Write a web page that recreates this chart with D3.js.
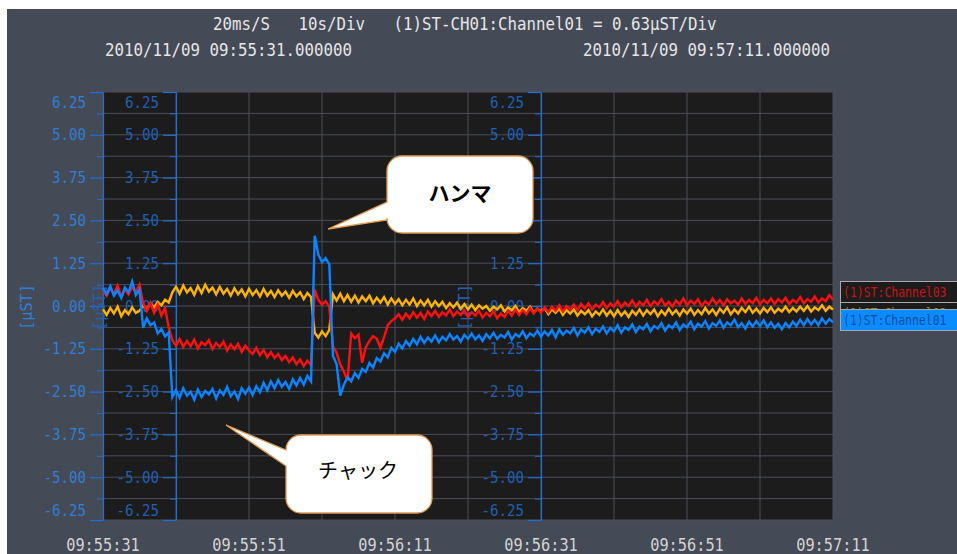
<!DOCTYPE html>
<html>
<head>
<meta charset="utf-8">
<script src="https://cdn.jsdelivr.net/npm/d3@7"></script>
<style>
  html, body { margin: 0; padding: 0; background: #ffffff; }
  svg { display: block; }
</style>
</head>
<body>
<svg id="chart" width="957" height="554"></svg>
<script>
// ---- data -----------------------------------------------------------
const sampleStep = 0.5;              // seconds between stored samples
const spanSeconds = 100;             // 10 s/Div x 10 Div
const timeLabels = ["09:55:31", "09:55:51", "09:56:11", "09:56:31", "09:56:51", "09:57:11"];
const yTicks = [6.25, 5.00, 3.75, 2.50, 1.25, 0.00, -1.25, -2.50, -3.75, -5.00, -6.25];
const headerFields = ["20ms/S", "10s/Div", "(1)ST-CH01:Channel01 = 0.63\u00b5ST/Div"];
const startStamp = "2010/11/09 09:55:31.000000";
const endStamp = "2010/11/09 09:57:11.000000";
const unitLabel = "[\u00b5ST]";
const seriesNames = ["(1)ST:Channel03", "(1)ST:Channel02", "(1)ST:Channel01"];

// µST, one value every sampleStep seconds
const channel01 = [
  0.52,0.34,0.58,0.30,0.46,0.24,0.54,0.40,0.72,0.32,0.48,
  -0.64,-0.36,-0.56,-0.48,-0.80,-0.67,-0.89,-0.77,-2.66,
  -2.45,-2.68,-2.40,-2.62,-2.50,-2.74,-2.44,-2.66,-2.48,-2.58,-2.42,-2.70,-2.46,-2.60,-2.36,-2.64,-2.50,-2.72,-2.40,-2.56,-2.38,
  -2.60,-2.34,-2.52,-2.24,-2.46,-2.20,-2.40,-2.16,-2.36,-2.22,-2.42,-2.14,-2.32,-2.10,-2.30,-2.04,-2.20,
  2.05,1.50,1.28,1.40,1.22,
  -1.45,-1.70,-2.62,-2.30,-2.08,-2.20,-1.96,-2.10,-1.84,-1.92,-1.66,-1.80,-1.52,-1.62,-1.38,-1.50,-1.22,-1.34,
  -1.10,-1.24,-1.02,-1.16,-0.96,-1.12,-0.90,-1.08,-0.92,-1.04,-0.86,-1.06,-0.90,-1.00,-0.82,-0.98,-0.88,-1.04,-0.84,-0.96,
  -0.80,-0.98,-0.86,-1.02,-0.82,-0.94,-0.78,-0.96,-0.84,-0.92,-0.76,-0.98,-0.82,-0.90,-0.74,-0.94,-0.80,-0.88,-0.72,-0.90,
  -0.74,-0.86,-0.70,-0.92,-0.68,-0.84,-0.72,-0.80,-0.64,-0.86,-0.68,-0.78,-0.62,-0.82,-0.66,-0.76,-0.60,-0.80,-0.64,-0.74,
  -0.56,-0.78,-0.62,-0.70,-0.54,-0.76,-0.60,-0.68,-0.52,-0.74,-0.58,-0.66,-0.50,-0.72,-0.56,-0.64,-0.48,-0.70,-0.54,-0.62,
  -0.46,-0.68,-0.52,-0.60,-0.44,-0.66,-0.50,-0.58,-0.42,-0.64,-0.48,-0.56,-0.40,-0.62,-0.50,-0.66,-0.46,-0.60,-0.44,-0.58,
  -0.42,-0.62,-0.48,-0.64,-0.52,-0.68,-0.50,-0.62,-0.46,-0.58,-0.40,-0.56,-0.38,-0.54,-0.40,-0.56,-0.36,-0.52,-0.38,-0.48
];
const channel02 = [
  -0.10,-0.26,-0.06,-0.22,-0.02,-0.30,-0.12,-0.24,-0.04,-0.20,-0.14,
  0.02,-0.10,0.08,-0.04,0.12,0.02,0.18,0.10,0.40,
  0.56,0.36,0.60,0.40,0.52,0.32,0.58,0.38,0.62,0.42,0.54,0.34,0.56,0.36,0.50,0.30,0.52,0.34,0.48,0.28,0.50,
  0.32,0.46,0.28,0.50,0.30,0.44,0.26,0.46,0.30,0.42,0.24,0.44,0.28,0.40,0.20,0.38,0.26,
  -0.78,-0.92,-0.74,-0.88,-0.70,
  0.34,0.16,0.36,0.14,0.32,0.12,0.30,0.10,0.28,0.14,0.30,0.08,0.24,0.10,0.26,0.04,0.22,0.06,
  0.20,0.02,0.18,0.04,0.22,0.00,0.16,0.02,0.18,-0.02,0.14,0.00,0.12,-0.06,0.08,-0.04,0.10,-0.08,0.06,-0.10,
  0.04,-0.12,0.02,-0.08,0.00,-0.14,-0.02,-0.10,0.02,-0.16,-0.04,-0.12,0.00,-0.18,-0.06,-0.14,-0.02,-0.20,-0.08,-0.16,
  -0.06,-0.24,-0.10,-0.20,-0.08,-0.26,-0.12,-0.22,-0.10,-0.28,-0.14,-0.24,-0.12,-0.30,-0.16,-0.26,-0.10,-0.28,-0.14,-0.30,
  -0.12,-0.28,-0.16,-0.32,-0.14,-0.26,-0.10,-0.28,-0.12,-0.24,-0.10,-0.30,-0.14,-0.26,-0.08,-0.24,-0.12,-0.28,-0.10,-0.22,
  -0.08,-0.26,-0.12,-0.24,-0.06,-0.22,-0.10,-0.26,-0.08,-0.20,-0.04,-0.24,-0.10,-0.22,-0.06,-0.18,-0.02,-0.20,-0.08,-0.22,
  -0.06,-0.18,-0.04,-0.20,-0.08,-0.16,-0.02,-0.18,-0.06,-0.16,-0.02,-0.14,0.00,-0.16,-0.04,-0.12,0.02,-0.14,-0.02,-0.10
];
const channel03 = [
  0.44,0.30,0.52,0.36,0.60,0.28,0.48,0.34,0.56,0.40,0.62,
  0.08,-0.14,0.10,-0.20,0.04,-0.28,-0.06,-0.62,-1.00,
  -1.16,-0.96,-1.20,-1.02,-1.18,-0.98,-1.24,-1.06,-1.14,-1.00,-1.26,-1.08,-1.20,-1.04,-1.30,-1.12,-1.26,-1.10,-1.34,-1.16,-1.30,
  -1.40,-1.22,-1.44,-1.28,-1.50,-1.34,-1.52,-1.40,-1.58,-1.46,-1.64,-1.50,-1.70,-1.56,-1.76,-1.60,-1.72,
  0.48,0.18,0.04,0.14,-0.02,
  -1.18,-1.36,-1.70,-1.92,-2.18,-0.80,-0.94,-0.84,-1.66,-1.20,-1.02,-0.88,-0.96,-1.22,-0.92,-0.56,-0.44,-0.36,
  -0.24,-0.40,-0.22,-0.36,-0.18,-0.34,-0.20,-0.38,-0.16,-0.30,-0.14,-0.32,-0.18,-0.28,-0.10,-0.30,-0.16,-0.26,-0.12,-0.32,
  -0.18,-0.28,-0.14,-0.34,-0.20,-0.30,-0.16,-0.36,-0.22,-0.32,-0.14,-0.28,-0.10,-0.26,-0.12,-0.24,-0.06,-0.22,-0.08,-0.20,
  -0.04,-0.18,-0.02,-0.14,0.02,-0.16,0.00,-0.10,0.04,-0.12,0.06,-0.08,0.08,-0.10,0.04,-0.04,0.12,-0.06,0.08,-0.02,
  0.14,-0.04,0.10,0.00,0.16,-0.02,0.12,0.02,0.18,0.00,0.14,0.04,0.20,0.02,0.12,-0.02,0.16,0.04,0.22,0.02,
  0.16,0.06,0.20,0.00,0.14,0.04,0.22,0.06,0.18,0.02,0.20,0.08,0.16,0.04,0.22,0.06,0.18,0.08,0.24,0.04,
  0.18,0.08,0.22,0.06,0.20,0.10,0.24,0.06,0.18,0.10,0.26,0.08,0.20,0.12,0.28,0.10,0.22,0.14,0.32,0.18
];

// ---- layout ---------------------------------------------------------
const W = 957, H = 554;
const plot = { left: 103, right: 833, top: 92, bottom: 520 };
const monoFont = "'DejaVu Sans Mono', 'Liberation Mono', monospace";
const cjkFont = "'Noto Sans CJK JP', 'Noto Sans', sans-serif";
const cell = 9.5;                    // character cell width of header text

const svg = d3.select("#chart");

const x = d3.scaleLinear().domain([0, spanSeconds]).range([plot.left, plot.right]);
const y = d3.scaleLinear().domain([-6.25, 6.25]).range([plot.bottom, plot.top]);

// squeeze monospaced text into the narrow cell width of the recorder font
function fitText(sel, cellWidth) {
  sel.attr("textLength", function () { return this.textContent.length * cellWidth; })
     .attr("lengthAdjust", "spacingAndGlyphs");
}

// page background: white margin and slate panel
svg.append("rect").attr("width", W).attr("height", H).attr("fill", "#ffffff");
svg.append("rect").attr("x", 7).attr("y", 9).attr("width", W - 7).attr("height", H - 9).attr("fill", "#454a57");

// header text: fields separated by three character cells
const header = svg.append("g").attr("font-family", monoFont).attr("font-size", 17).attr("fill", "#e6e6e6");
let hx = 213;
headerFields.forEach(f => {
  header.append("text").attr("x", hx).attr("y", 30).text(f).call(fitText, cell);
  hx += (f.length + 3) * cell;
});
header.append("text").attr("x", 105).attr("y", 56).text(startStamp).call(fitText, cell);
header.append("text").attr("x", 583).attr("y", 56).text(endStamp).call(fitText, cell);

// plot area
svg.append("rect")
  .attr("x", plot.left).attr("y", plot.top)
  .attr("width", plot.right - plot.left).attr("height", plot.bottom - plot.top)
  .attr("fill", "#1c1c1c");

// grid: one line per 0.625 µST division and per 10 s division
const grid = svg.append("g").attr("stroke", "#4a4e5a").attr("stroke-width", 1);
const hLevels = d3.range(0, 21).map(k => -6.25 + k * 0.625);
grid.selectAll("line.h").data(hLevels).join("line")
  .attr("x1", plot.left).attr("x2", plot.right)
  .attr("y1", d => y(d)).attr("y2", d => y(d));
const vTimes = d3.range(0, 11).map(k => k * 10);
grid.selectAll("line.v").data(vTimes).join("line")
  .attr("x1", d => x(d)).attr("x2", d => x(d))
  .attr("y1", plot.top).attr("y2", plot.bottom);

// µST scales repeated at 0 s, 10 s and 60 s
const axisBlue = "#1e6fd9";
const minorLevels = d3.range(0, 10).map(k => -5.625 + k * 1.25);
function drawScale(t, labelColor) {
  const x0 = x(t);
  const g = svg.append("g").attr("transform", `translate(${x0},0)`);
  const minor = g.append("g")
    .call(d3.axisLeft(y).tickValues(minorLevels).tickSize(6).tickSizeOuter(0).tickFormat(() => ""));
  minor.select(".domain").remove();
  minor.selectAll("line").attr("stroke", axisBlue);
  const major = g.append("g")
    .call(d3.axisLeft(y).tickValues(yTicks).tickSize(13).tickSizeOuter(0).tickPadding(4)
      .tickFormat(d => d.toFixed(2)));
  major.select(".domain").attr("stroke", axisBlue).attr("stroke-width", 1.2);
  major.selectAll("line").attr("stroke", axisBlue).attr("stroke-width", 1.2);
  major.selectAll("text")
    .attr("fill", labelColor)
    .attr("font-family", monoFont)
    .attr("font-size", 16)
    .attr("y", d => d === 6.25 ? 10 : d === -6.25 ? -10 : 0)
    .call(fitText, 8.5);
  g.append("text")
    .attr("transform", `translate(${-77},${y(0) + 1}) rotate(-90)`)
    .attr("text-anchor", "middle")
    .attr("dy", "0.35em")
    .attr("font-family", monoFont)
    .attr("font-size", 16)
    .attr("fill", labelColor)
    .text(unitLabel)
    .attr("textLength", 46).attr("lengthAdjust", "spacingAndGlyphs");
}
drawScale(0, "#2d7fd8");
drawScale(10, "#2060b4");
drawScale(60, "#2060b4");

// time labels
svg.append("g").attr("font-family", monoFont).attr("font-size", 17).attr("fill", "#d4d4d4")
  .selectAll("text").data(timeLabels).join("text")
  .attr("x", (d, k) => x(k * 20))
  .attr("y", 551)
  .attr("text-anchor", "middle")
  .text(d => d)
  .call(fitText, 9.2);

// traces
const line = d3.line().x((d, k) => x(k * sampleStep)).y(d => y(d));
const traces = [
  { values: channel02, color: "#ffb400" },
  { values: channel03, color: "#ff1010" },
  { values: channel01, color: "#0a84ff" }
];
svg.append("g").selectAll("path").data(traces).join("path")
  .attr("d", d => line(d.values))
  .attr("fill", "none")
  .attr("stroke", d => d.color)
  .attr("stroke-width", 2.4)
  .attr("stroke-linejoin", "miter");

// channel tags at the right edge
const tags = [
  { name: seriesNames[0], top: 281.5, bg: "#1c1c1c", fg: "#cc1414" },
  { name: seriesNames[1], top: 302.5, bg: "#1c1c1c", fg: "#9a8428" },
  { name: seriesNames[2], top: 309.5, bg: "#0a8cff", fg: "#0b4c9e" }
];
const tagG = svg.append("g");
tags.forEach(tg => {
  tagG.append("rect").attr("x", 840.5).attr("y", tg.top).attr("width", 130).attr("height", 21)
    .attr("fill", tg.bg).attr("stroke", "#a9a9a9").attr("stroke-width", 1);
  tagG.append("text").attr("x", 843).attr("y", tg.top + 15.5)
    .attr("font-family", monoFont).attr("font-size", 14).attr("fill", tg.fg)
    .text(tg.name).call(fitText, 6.9);
});

// speech-bubble annotations
function bubblePath(b) {
  const { x0, y0, x1, y1, r, tip, base0, base1 } = b;
  return [
    `M${x0 + r},${y0}`, `H${x1 - r}`, `A${r},${r} 0 0 1 ${x1},${y0 + r}`,
    `V${y1 - r}`, `A${r},${r} 0 0 1 ${x1 - r},${y1}`,
    `H${x0 + r}`, `A${r},${r} 0 0 1 ${x0},${y1 - r}`,
    `V${base1}`, `L${tip[0]},${tip[1]}`, `L${x0},${base0}`,
    `V${y0 + r}`, `A${r},${r} 0 0 1 ${x0 + r},${y0}`, "Z"
  ].join(" ");
}
const bubbles = [
  { x0: 387, y0: 156, x1: 533, y1: 233, r: 15, tip: [328, 229], base0: 202, base1: 220,
    text: "ハンマ", tx: 460, ty: 201, size: 21, weight: "bold" },
  { x0: 286, y0: 435, x1: 432, y1: 513, r: 15, tip: [226, 425], base0: 450, base1: 466,
    text: "チャック", tx: 358, ty: 478, size: 20, weight: "normal" }
];
const bubbleG = svg.append("g");
bubbles.forEach(b => {
  bubbleG.append("path").attr("d", bubblePath(b))
    .attr("fill", "#ffffff").attr("stroke", "#e39a52").attr("stroke-width", 1.3);
  bubbleG.append("text").attr("x", b.tx).attr("y", b.ty)
    .attr("text-anchor", "middle")
    .attr("font-family", cjkFont).attr("font-size", b.size).attr("font-weight", b.weight)
    .attr("fill", "#000000").text(b.text);
});
</script>
</body>
</html>
